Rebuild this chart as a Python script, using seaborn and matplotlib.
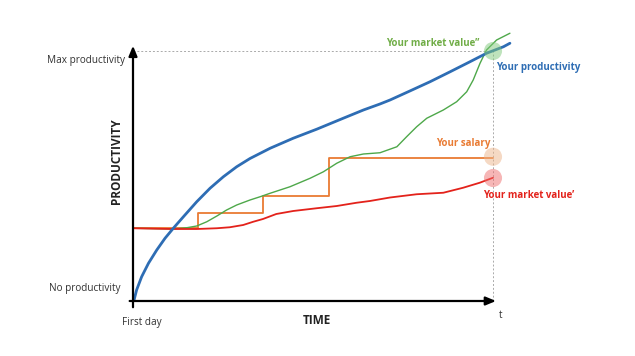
import numpy as np
import pandas as pd
import seaborn as sns
import matplotlib.pyplot as plt

sns.set_style("white")
plt.rcParams['font.family'] = ['Open Sans', 'DejaVu Sans']

# time goes 0 (first day) .. 1 (t), productivity 0 (none) .. 1 (max)
prod_t = [0, 0.003, 0.010, 0.024, 0.043, 0.066, 0.089, 0.112, 0.140, 0.177,
          0.214, 0.251, 0.288, 0.325, 0.381, 0.445, 0.510, 0.584, 0.640, 0.686,
          0.714, 0.769, 0.825, 0.881, 0.936, 0.982, 1.029, 1.047]
prod_v = [0, 0.004, 0.044, 0.097, 0.151, 0.204, 0.251, 0.291, 0.337, 0.397,
          0.451, 0.497, 0.537, 0.570, 0.611, 0.651, 0.687, 0.731, 0.764, 0.788,
          0.804, 0.840, 0.877, 0.917, 0.957, 0.991, 1.017, 1.031]

mv1_t = [0, 0.111, 0.177, 0.233, 0.269, 0.306, 0.334, 0.361, 0.398, 0.445,
         0.510, 0.566, 0.621, 0.658, 0.714, 0.788, 0.862, 0.917, 0.963, 1.0]
mv1_v = [0.291, 0.288, 0.288, 0.291, 0.295, 0.304, 0.317, 0.328, 0.348, 0.360,
         0.371, 0.380, 0.393, 0.400, 0.414, 0.427, 0.433, 0.453, 0.473, 0.493]

mv2_t = [0, 0.111, 0.149, 0.177, 0.205, 0.233, 0.260, 0.288, 0.325, 0.353,
         0.381, 0.436, 0.492, 0.529, 0.566, 0.603, 0.640, 0.686, 0.733, 0.760,
         0.788, 0.816, 0.862, 0.899, 0.927, 0.945, 0.964, 0.982, 1.010, 1.047]
mv2_v = [0.291, 0.288, 0.293, 0.300, 0.317, 0.340, 0.364, 0.384, 0.404, 0.417,
         0.431, 0.457, 0.491, 0.517, 0.551, 0.577, 0.588, 0.593, 0.617, 0.657,
         0.697, 0.731, 0.764, 0.797, 0.837, 0.884, 0.951, 1.004, 1.044, 1.071]

salary_t = [0, 0.180, 0.362, 0.545, 1.0]
salary_v = [0.291, 0.353, 0.42, 0.573, 0.573]

end_labels = ["Your market value\u2019\u2019", "Your salary", "Your market value\u2019"]
end_v = [1.0, 0.577, 0.492]

BLUE = "#2E6DB4"
GREEN = "#4EA84A"
ORANGE = "#E97B33"
RED = "#E3221B"

fig = plt.figure(figsize=(6.35, 3.56), dpi=100)
ax = fig.add_axes([0, 0, 1, 1])
ax.set_xlim(-133 / 360, (635 - 133) / 360)
ax.set_ylim(-55 / 250, 301 / 250)
ax.axis("off")

# guide lines
ax.plot([0, 1], [1, 1], ls=(0, (2, 2)), color="#AAAAAA", lw=0.7)
ax.plot([1, 1], [0, 1], ls=(0, (2, 2)), color="#AAAAAA", lw=0.7)

sns.lineplot(x=salary_t, y=salary_v, ax=ax, color=ORANGE, lw=1.3,
             drawstyle="steps-post", estimator=None, sort=False)
sns.lineplot(x=mv2_t, y=mv2_v, ax=ax, color=GREEN, lw=1.0, estimator=None, sort=False)
sns.lineplot(x=mv1_t, y=mv1_v, ax=ax, color=RED, lw=1.3, estimator=None, sort=False)
sns.lineplot(x=prod_t, y=prod_v, ax=ax, color=BLUE, lw=2.0, estimator=None, sort=False)

sns.scatterplot(x=[1, 1, 1], y=end_v, ax=ax, s=170, alpha=0.5,
                color=["#7FC97A", "#EDB48A", "#EE6E6E"], edgecolor="none", zorder=5)

# axes arrows
ax.annotate("", xy=(0, 1.032), xytext=(0, -0.036),
            arrowprops=dict(arrowstyle="-|>,head_length=0.6,head_width=0.25", color="black", lw=1.6))
ax.annotate("", xy=(1.016, 0), xytext=(-0.017, 0),
            arrowprops=dict(arrowstyle="-|>,head_length=0.6,head_width=0.25", color="black", lw=1.6))

tk = dict(fontsize=7.2, color="#333333")
ax.text(-0.022, 0.96, "Max productivity", ha="right", va="center", **tk)
ax.text(-0.036, 0.052, "No productivity", ha="right", va="center", **tk)
ax.text(0.025, -0.084, "First day", ha="center", va="center", **tk)
ax.text(1.02, -0.06, "t", ha="center", va="center", **tk)
ax.text(0.511, -0.076, "TIME", ha="center", va="center", fontsize=8.5,
        fontweight="bold", color="#222222")
ax.text(-0.047, 0.56, "PRODUCTIVITY", ha="center", va="center", rotation=90,
        fontsize=8.5, fontweight="bold", color="#222222")

ax.text(0.961, 1.028, end_labels[0], ha="right", va="center", fontsize=7,
        fontweight="bold", color="#70AD47")
ax.text(1.008, 0.932, "Your productivity", ha="left", va="center", fontsize=7,
        fontweight="bold", color=BLUE)
ax.text(0.994, 0.628, end_labels[1], ha="right", va="center", fontsize=7,
        fontweight="bold", color=ORANGE)
ax.text(1.1, 0.42, end_labels[2], ha="center", va="center", fontsize=7,
        fontweight="bold", color=RED)

fig.savefig("out.png", dpi=100)
